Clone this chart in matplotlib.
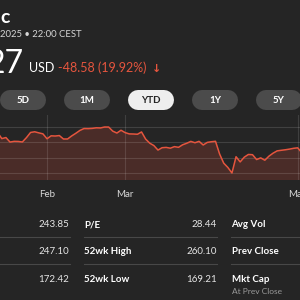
import numpy as np
import matplotlib
matplotlib.use("Agg")
import matplotlib.pyplot as plt

plt.rcParams["font.family"] = ["Lato", "DejaVu Sans"]

# daily closes, trading days from Jan 2 2025
closes = [243.85, 243.36, 245.00, 242.21, 242.70, 236.85, 234.40, 233.28, 237.87, 228.26,
          229.98, 222.64, 223.83, 223.66, 222.78, 229.86, 238.26, 239.36, 237.59, 236.00,
          228.01, 232.80, 232.47, 233.22, 227.63, 227.65, 232.62, 236.87, 241.53, 244.60,
          244.47, 244.87, 245.83, 245.55, 247.10, 247.04, 240.36, 237.30, 241.84,
          238.03, 235.93, 235.74, 235.33, 239.07, 227.48, 220.84, 216.98, 209.68, 213.49,
          214.00, 212.69, 215.24, 214.10, 218.27, 220.73, 223.75, 221.53, 223.85, 217.90,
          222.13,
          223.19, 223.89, 203.19, 188.38, 181.46, 172.42, 198.85, 190.42, 198.15, 202.52,
          202.14, 194.27, 196.98, 193.16, 199.74, 204.60, 208.37, 209.28, 210.14, 211.21,
          212.50, 213.32, 205.35, 198.89, 198.51]
month_names = ["Feb", "Mar", "May"]
month_idx = [20, 39, 81]

ranges = ["5D", "1M", "YTD", "1Y", "5Y"]
active = "YTD"

# only the visible part of the header survives the crop
company = "c"
stamp = "2025 \u2022 22:00 CEST"
price = "27"
change = "-48.58 (19.92%)"

val1 = ["243.85", "247.10", "172.42"]
lab2 = ["P/E", "52wk High", "52wk Low"]
val2 = ["28.44", "260.10", "169.21"]
lab3 = ["Avg Vol", "Prev Close", "Mkt Cap"]

bg = "#252525"
red = "#e5553e"
fig = plt.figure(figsize=(3, 3), dpi=100, facecolor=bg)

# pixel overlay
ov = fig.add_axes([0, 0, 1, 1])
ov.set_xlim(0, 300)
ov.set_ylim(300, 0)
ov.axis("off")

ov.text(0.5, 23, company, color="white", fontsize=14, fontweight="bold", ha="left", va="baseline")
ov.text(0.5, 37, stamp, color="#d6d6d6", fontsize=6.8, ha="left", va="baseline")
ov.text(24, 73, price, color="white", fontsize=23, ha="right", va="baseline")
ov.text(29, 72, "USD", color="white", fontsize=9, ha="left", va="baseline")
ov.text(58, 72, change, color=red, fontsize=9, ha="left", va="baseline")
ov.text(157, 72, "\u2193", color=red, fontsize=8, ha="center", va="baseline",
        family=["DejaVu Sans"], fontweight="bold")

for k, r in enumerate(ranges):
    cx = 23 + 64 * k
    on = r == active
    ov.plot([cx - 13, cx + 13], [100, 100], color="#eeeeee" if on else "#4b4b4b",
            lw=20 * 72 / 100, solid_capstyle="round")
    ov.text(cx, 100.5, r, color="#222222" if on else "white", fontsize=7,
            fontweight="bold", ha="center", va="center")

# stats table
for j in range(3):
    yb = 227 + 27.3 * j
    ov.text(69, yb, val1[j], color="#e6e6e6", fontsize=7, ha="right", va="baseline")
    ov.text(84, yb, lab2[j], color="white", fontsize=7, fontweight="bold", ha="left", va="baseline")
    ov.text(217, yb, val2[j], color="#e6e6e6", fontsize=7, ha="right", va="baseline")
    ov.text(231.5, yb, lab3[j], color="white", fontsize=7, fontweight="bold", ha="left", va="baseline")
ov.text(231.5, 294, "At Prev Close", color="#9a9a9a", fontsize=6, ha="left", va="baseline")
for ys in [236.7, 264.3]:
    for a, b in [(0, 70), (84, 217), (231, 300)]:
        ov.plot([a, b], [ys, ys], color="#484848", lw=0.8)

# chart
x = np.arange(len(closes))
lo, hi = min(closes), max(closes)
ax = fig.add_axes([0, 1 - 180 / 300, 1, 65 / 300])
ax.set_facecolor("none")
ax.set_xlim(8.56, 81.56)
ax.set_ylim(161.05, 266.6)
ax.fill_between(x, closes, 161.05, color="#4a2c28", lw=0)
for g in np.linspace(lo, hi, 4):
    ax.axhline(g, color="white", alpha=0.13, lw=0.8)
for m in month_idx:
    ax.axvline(m, color="white", alpha=0.12, lw=0.8)
ax.plot(x, closes, color=red, lw=1.1)
ax.axis("off")

for name, m in zip(month_names, month_idx):
    px = (m - 8.56) / (81.56 - 8.56) * 300
    ov.text(px, 197, name, color="#d8d8d8", fontsize=7, ha="center", va="baseline")

fig.savefig("out.png", dpi=100, facecolor=bg)
